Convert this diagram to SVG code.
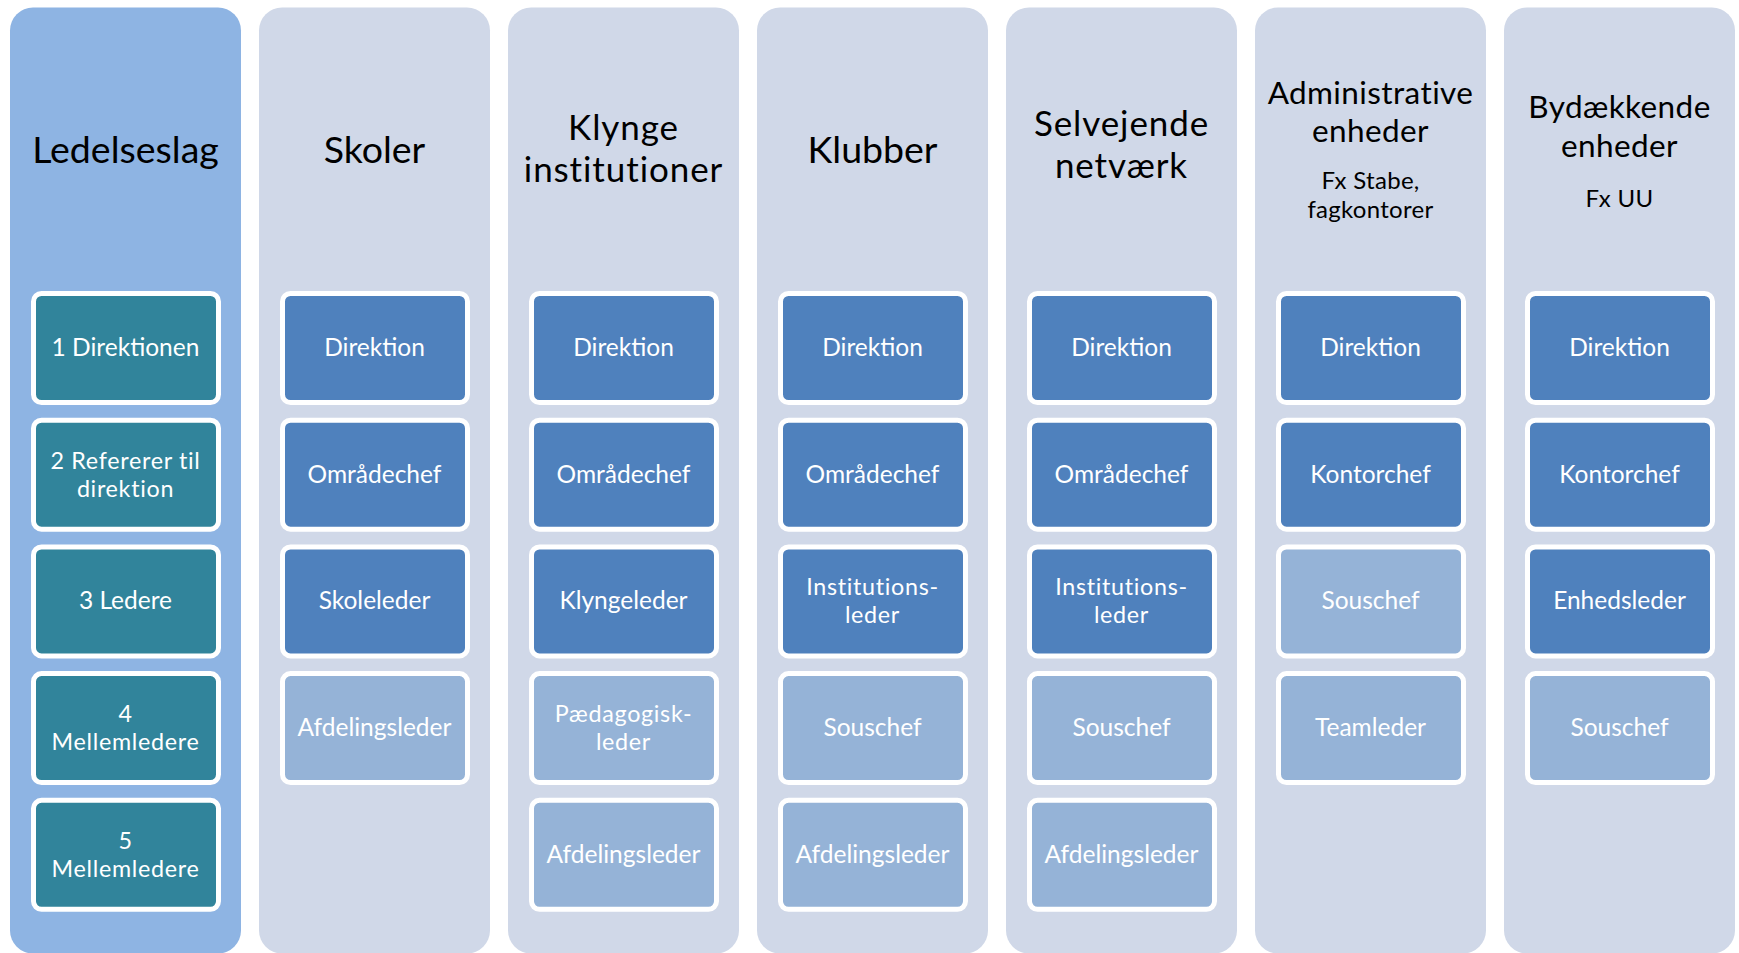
<svg xmlns="http://www.w3.org/2000/svg" width="1739" height="953" viewBox="0 0 1739 953">
<style>
.bg{fill:#ffffff}
.col{fill:#D0D8E8}
.col1{fill:#8EB4E3}
.box{stroke:#ffffff;stroke-width:5}
.teal{fill:#31849B}
.dark{fill:#4F81BD}
.light{fill:#95B3D7}
.hd{font-family:Lato,"Open Sans",sans-serif;font-size:37.5px;fill:#000000;text-anchor:middle}
.hd2{font-family:Lato,"Open Sans",sans-serif;font-size:35px;letter-spacing:0.9px;fill:#000000;text-anchor:middle}
.hds{font-family:Lato,"Open Sans",sans-serif;font-size:31.5px;letter-spacing:0.4px;fill:#000000;text-anchor:middle}
.sub{font-family:Lato,"Open Sans",sans-serif;font-size:24px;letter-spacing:0.3px;fill:#000000;text-anchor:middle}
.bt{font-family:Lato,"Open Sans",sans-serif;font-size:24.5px;fill:#ffffff;text-anchor:middle}
.bt2{font-family:Lato,"Open Sans",sans-serif;font-size:23.3px;letter-spacing:0.7px;fill:#ffffff;text-anchor:middle}
</style>
<rect class="bg" x="0" y="0" width="1739" height="953"/>

<g id="col-ledelseslag">
<rect class="col1" x="10" y="7.5" width="231" height="946" rx="23"/>
<text class="hd" x="125.5" y="162.5">Ledelseslag</text>
<g id="l1"><rect class="box teal" x="33.5" y="293.5" width="185" height="109" rx="8"/><text class="bt" x="125.5" y="356">1 Direktionen</text></g>
<g id="l2"><rect class="box teal" x="33.5" y="420.2" width="185" height="109" rx="8"/><text class="bt2" x="125.5" y="468.7">2 Refererer til<tspan x="125.5" dy="28">direktion</tspan></text></g>
<g id="l3"><rect class="box teal" x="33.5" y="546.9" width="185" height="109" rx="8"/><text class="bt" x="125.5" y="609.4">3 Ledere</text></g>
<g id="l4"><rect class="box teal" x="33.5" y="673.6" width="185" height="109" rx="8"/><text class="bt2" x="125.5" y="722.1">4<tspan x="125.5" dy="28">Mellemledere</tspan></text></g>
<g id="l5"><rect class="box teal" x="33.5" y="800.3" width="185" height="109" rx="8"/><text class="bt2" x="125.5" y="848.8">5<tspan x="125.5" dy="28">Mellemledere</tspan></text></g>
</g>

<g id="col-skoler">
<rect class="col" x="259" y="7.5" width="231" height="946" rx="23"/>
<text class="hd" x="374.5" y="162.5">Skoler</text>
<g id="s1"><rect class="box dark" x="282.5" y="293.5" width="185" height="109" rx="8"/><text class="bt" x="374.5" y="356">Direktion</text></g>
<g id="s2"><rect class="box dark" x="282.5" y="420.2" width="185" height="109" rx="8"/><text class="bt" x="374.5" y="482.7">Områdechef</text></g>
<g id="s3"><rect class="box dark" x="282.5" y="546.9" width="185" height="109" rx="8"/><text class="bt" x="374.5" y="609.4">Skoleleder</text></g>
<g id="s4"><rect class="box light" x="282.5" y="673.6" width="185" height="109" rx="8"/><text class="bt" x="374.5" y="736.1">Afdelingsleder</text></g>
</g>

<g id="col-klynge">
<rect class="col" x="508" y="7.5" width="231" height="946" rx="23"/>
<text class="hd2" x="623.5" y="140">Klynge<tspan x="623.5" dy="42">institutioner</tspan></text>
<g id="k1"><rect class="box dark" x="531.5" y="293.5" width="185" height="109" rx="8"/><text class="bt" x="623.5" y="356">Direktion</text></g>
<g id="k2"><rect class="box dark" x="531.5" y="420.2" width="185" height="109" rx="8"/><text class="bt" x="623.5" y="482.7">Områdechef</text></g>
<g id="k3"><rect class="box dark" x="531.5" y="546.9" width="185" height="109" rx="8"/><text class="bt" x="623.5" y="609.4">Klyngeleder</text></g>
<g id="k4"><rect class="box light" x="531.5" y="673.6" width="185" height="109" rx="8"/><text class="bt2" x="623.5" y="722.1">Pædagogisk-<tspan x="623.5" dy="28">leder</tspan></text></g>
<g id="k5"><rect class="box light" x="531.5" y="800.3" width="185" height="109" rx="8"/><text class="bt" x="623.5" y="862.8">Afdelingsleder</text></g>
</g>

<g id="col-klubber">
<rect class="col" x="757" y="7.5" width="231" height="946" rx="23"/>
<text class="hd" x="872.5" y="162.5">Klubber</text>
<g id="c1"><rect class="box dark" x="780.5" y="293.5" width="185" height="109" rx="8"/><text class="bt" x="872.5" y="356">Direktion</text></g>
<g id="c2"><rect class="box dark" x="780.5" y="420.2" width="185" height="109" rx="8"/><text class="bt" x="872.5" y="482.7">Områdechef</text></g>
<g id="c3"><rect class="box dark" x="780.5" y="546.9" width="185" height="109" rx="8"/><text class="bt2" x="872.5" y="595.4">Institutions-<tspan x="872.5" dy="28">leder</tspan></text></g>
<g id="c4"><rect class="box light" x="780.5" y="673.6" width="185" height="109" rx="8"/><text class="bt" x="872.5" y="736.1">Souschef</text></g>
<g id="c5"><rect class="box light" x="780.5" y="800.3" width="185" height="109" rx="8"/><text class="bt" x="872.5" y="862.8">Afdelingsleder</text></g>
</g>

<g id="col-selvejende">
<rect class="col" x="1006" y="7.5" width="231" height="946" rx="23"/>
<text class="hd2" x="1121.5" y="136">Selvejende<tspan x="1121.5" dy="42">netværk</tspan></text>
<g id="v1"><rect class="box dark" x="1029.5" y="293.5" width="185" height="109" rx="8"/><text class="bt" x="1121.5" y="356">Direktion</text></g>
<g id="v2"><rect class="box dark" x="1029.5" y="420.2" width="185" height="109" rx="8"/><text class="bt" x="1121.5" y="482.7">Områdechef</text></g>
<g id="v3"><rect class="box dark" x="1029.5" y="546.9" width="185" height="109" rx="8"/><text class="bt2" x="1121.5" y="595.4">Institutions-<tspan x="1121.5" dy="28">leder</tspan></text></g>
<g id="v4"><rect class="box light" x="1029.5" y="673.6" width="185" height="109" rx="8"/><text class="bt" x="1121.5" y="736.1">Souschef</text></g>
<g id="v5"><rect class="box light" x="1029.5" y="800.3" width="185" height="109" rx="8"/><text class="bt" x="1121.5" y="862.8">Afdelingsleder</text></g>
</g>

<g id="col-administrative">
<rect class="col" x="1255" y="7.5" width="231" height="946" rx="23"/>
<text class="hds" x="1370.5" y="104">Administrative<tspan x="1370.5" dy="38">enheder</tspan></text>
<text class="sub" x="1370.5" y="189">Fx Stabe,<tspan x="1370.5" dy="29">fagkontorer</tspan></text>
<g id="a1"><rect class="box dark" x="1278.5" y="293.5" width="185" height="109" rx="8"/><text class="bt" x="1370.5" y="356">Direktion</text></g>
<g id="a2"><rect class="box dark" x="1278.5" y="420.2" width="185" height="109" rx="8"/><text class="bt" x="1370.5" y="482.7">Kontorchef</text></g>
<g id="a3"><rect class="box light" x="1278.5" y="546.9" width="185" height="109" rx="8"/><text class="bt" x="1370.5" y="609.4">Souschef</text></g>
<g id="a4"><rect class="box light" x="1278.5" y="673.6" width="185" height="109" rx="8"/><text class="bt" x="1370.5" y="736.1">Teamleder</text></g>
</g>

<g id="col-bydaekkende">
<rect class="col" x="1504" y="7.5" width="231" height="946" rx="23"/>
<text class="hds" x="1619.5" y="118">Bydækkende<tspan x="1619.5" dy="39">enheder</tspan></text>
<text class="sub" x="1619.5" y="207">Fx UU</text>
<g id="b1"><rect class="box dark" x="1527.5" y="293.5" width="185" height="109" rx="8"/><text class="bt" x="1619.5" y="356">Direktion</text></g>
<g id="b2"><rect class="box dark" x="1527.5" y="420.2" width="185" height="109" rx="8"/><text class="bt" x="1619.5" y="482.7">Kontorchef</text></g>
<g id="b3"><rect class="box dark" x="1527.5" y="546.9" width="185" height="109" rx="8"/><text class="bt" x="1619.5" y="609.4">Enhedsleder</text></g>
<g id="b4"><rect class="box light" x="1527.5" y="673.6" width="185" height="109" rx="8"/><text class="bt" x="1619.5" y="736.1">Souschef</text></g>
</g>

<g id="connectors"></g>
</svg>
